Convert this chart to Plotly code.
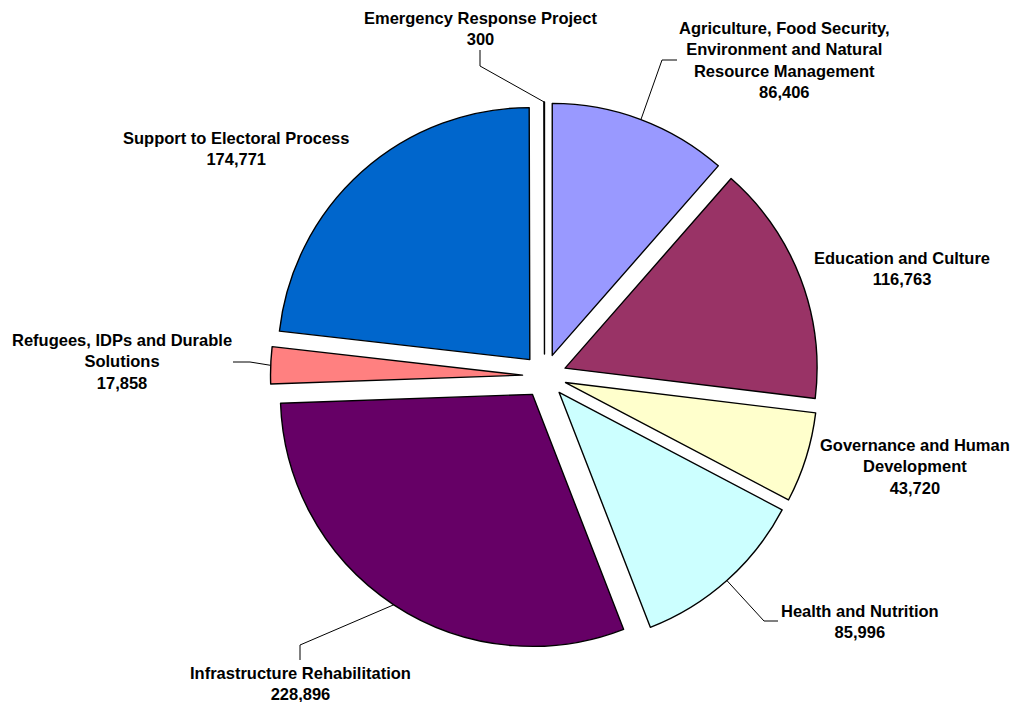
import math
import plotly.graph_objects as go

# Budget allocation by sector
sectors = [
    "Agriculture, Food Security,<br>Environment and Natural<br>Resource Management",
    "Education and Culture",
    "Governance and Human<br>Development",
    "Health and Nutrition",
    "Infrastructure Rehabilitation",
    "Refugees, IDPs and Durable<br>Solutions",
    "Support to Electoral Process",
    "Emergency Response Project",
]
amounts = [86406, 116763, 43720, 85996, 228896, 17858, 174771, 300]
colors = ["#9999FF", "#993366", "#FFFFCC", "#CCFFFF",
          "#660066", "#FF8080", "#0066CC", "#CCCCFF"]

W, H = 1015, 702
CX, CY = 544.5, 376.0      # pie centre (px)
R = 252.0                  # pie radius (px)
PULL = 0.0873              # explode fraction of radius
half = R * (1 + PULL)

def px(x):
    return x / W

def py(y):
    return 1 - y / H

fig = go.Figure(go.Pie(
    labels=[s.replace("<br>", " ") for s in sectors],
    values=amounts,
    sort=False,
    direction="clockwise",
    rotation=0,
    pull=[PULL] * len(amounts),
    marker=dict(colors=colors, line=dict(color="black", width=1.4)),
    textinfo="none",
    hovertemplate="%{label}<br>%{value:,}<extra></extra>",
    domain=dict(x=[px(CX - half), px(CX + half)],
                y=[py(CY + half), py(CY - half)]),
))

# label placement: (centre x, centre y, leader path from the slice edge or None)
label_layout = [
    (784, 60, [(662, 60), (677, 60)]),
    (902, 268, None),
    (915, 466, None),
    (860, 621, [(764, 621), (778, 621)]),
    (300, 683, [(300, 645), (300, 660)]),
    (122, 361, [(250, 362), (233, 362)]),
    (236, 148, None),
    (480, 28, [(480, 66), (480, 50)]),
]

total = sum(amounts)
cum = 0.0
shapes = []
annotations = []
for name, val, (lx, ly, path) in zip(sectors, amounts, label_layout):
    mid = (cum + val / 2) / total * 2 * math.pi
    cum += val
    annotations.append(dict(
        x=px(lx), y=py(ly), xref="paper", yref="paper",
        text=f"{name}<br>{val:,}", showarrow=False,
        xanchor="center", yanchor="middle", align="center",
        font=dict(family="Liberation Sans, Arial, sans-serif", size=16.5,
                  color="black", weight="bold"),
    ))
    if path:
        ax = CX + (R + R * PULL) * math.sin(mid)
        ay = CY - (R + R * PULL) * math.cos(mid)
        pts = [(ax, ay)] + path
        d = "M " + " L ".join(f"{px(x)},{py(y)}" for x, y in pts)
        shapes.append(dict(type="path", path=d, xref="paper", yref="paper",
                           line=dict(color="black", width=1)))

fig.update_layout(
    width=W, height=H,
    margin=dict(l=0, r=0, t=0, b=0),
    paper_bgcolor="white",
    plot_bgcolor="white",
    showlegend=False,
    shapes=shapes,
    annotations=annotations,
)

fig.write_html("out.html")
